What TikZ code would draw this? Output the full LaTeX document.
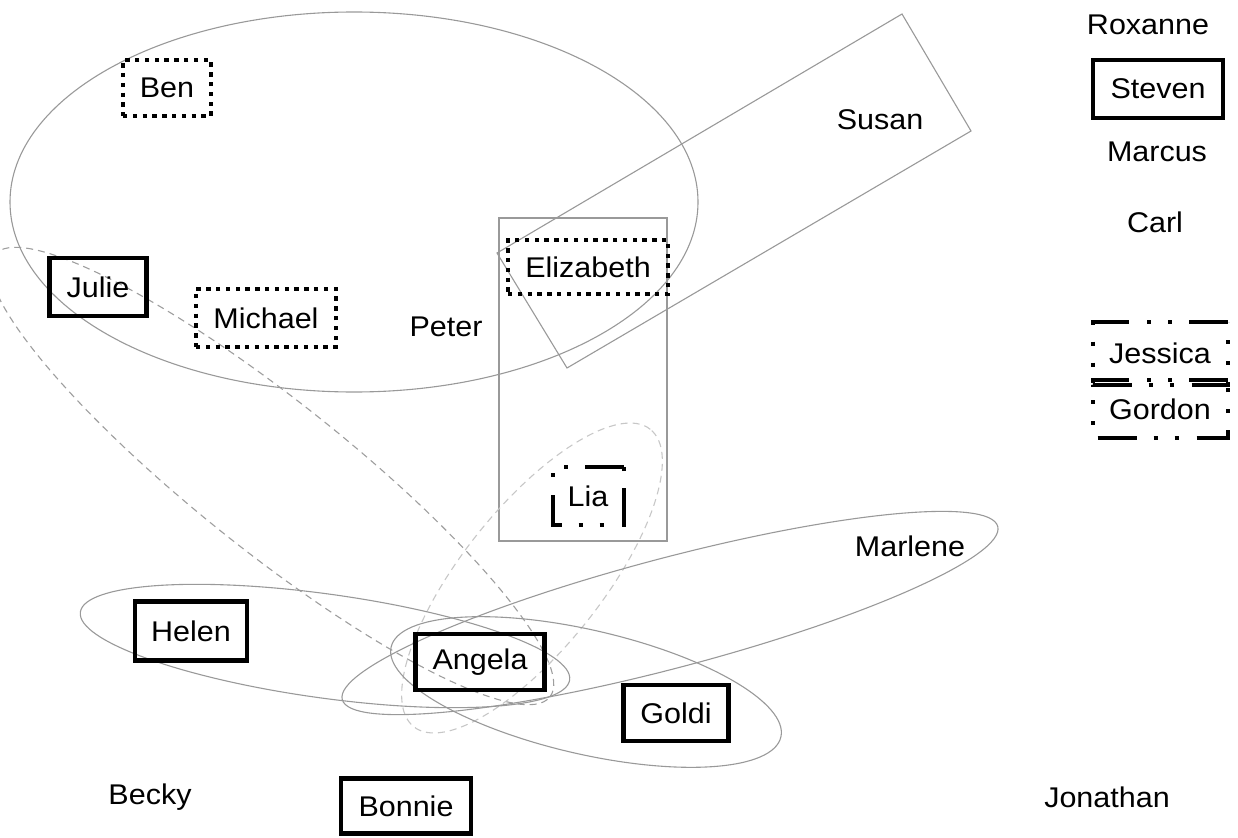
\documentclass[tikz,border=0pt]{standalone}
\usepackage{fontspec}
\setmainfont[FakeStretch=1.07]{Liberation Sans}
\begin{document}
\begin{tikzpicture}[x=1pt,y=-1pt,
  person/.style={font=\fontsize{28.5}{34}\selectfont, inner sep=0pt, outer sep=0pt},
  thickbox/.style={person, draw=black, line width=4.2pt},
  dotbox/.style={person, draw=black, line width=4.2pt, dash pattern=on 4.4pt off 5.4pt},
  ddframe/.style={draw=black, line width=4pt,
    dash pattern=on 39pt off 17pt on 4pt off 17pt on 4pt off 18pt},
  group/.style={draw=black!40, line width=1.1pt},
  groupdash/.style={draw=black!38, line width=1.1pt, dash pattern=on 7pt off 5pt},
  groupfaint/.style={draw=black!22, line width=1.1pt, dash pattern=on 7pt off 5pt}
]
\useasboundingbox (0,0) rectangle (1238,837);

% group outlines
\draw[group] (354,202) ellipse [x radius=344pt, y radius=190pt];
\draw[group] (499,218) rectangle (667,541);
\draw[group] (497,253) -- (902,14) -- (971,131) -- (567,368) -- cycle;
\draw[groupdash, rotate around={-38.5:(272,476)}] (272,476) ellipse [x radius=355pt, y radius=75pt];
\draw[groupfaint, rotate around={51.5:(532,578)}] (532,578) ellipse [x radius=190pt, y radius=70pt];
\draw[group, rotate around={-7.9:(325,646)}] (325,646) ellipse [x radius=247pt, y radius=52pt];
\draw[group, rotate around={14.8:(670,613)}] (670,613) ellipse [x radius=339pt, y radius=55pt];
\draw[group, rotate around={-13:(586,692)}] (586,692) ellipse [x radius=200pt, y radius=62pt];

% people
\node[person] (roxanne) at (1148,25) {Roxanne};
\node[thickbox, minimum width=130pt, minimum height=58pt] (steven) at (1158,89) {Steven};
\node[person] (marcus) at (1157,152) {Marcus};
\node[person] (carl) at (1155,222) {Carl};
\node[person, minimum width=135pt, minimum height=63pt] (jessica) at (1160,353) {Jessica};
\node[person, minimum width=135pt, minimum height=58pt] (gordon) at (1160,409) {Gordon};
\node[person] (susan) at (880,120) {Susan};
\node[dotbox, minimum width=88pt, minimum height=56pt] (ben) at (167,88) {Ben};
\node[thickbox, minimum width=97pt, minimum height=58pt] (julie) at (98,287) {Julie};
\node[dotbox, minimum width=140pt, minimum height=58pt] (michael) at (266,318) {Michael};
\node[person] (peter) at (446,327) {Peter};
\node[dotbox, minimum width=160pt, minimum height=54pt] (elizabeth) at (588,267) {Elizabeth};
\node[person, minimum width=71pt, minimum height=58pt] (lia) at (588,496) {Lia};
\node[person] (marlene) at (910,546) {Marlene};
\node[thickbox, minimum width=112pt, minimum height=59pt] (helen) at (191,631) {Helen};
\node[thickbox, minimum width=129pt, minimum height=56pt] (angela) at (480,662) {Angela};
\node[thickbox, minimum width=105pt, minimum height=56pt] (goldi) at (676,713) {Goldi};
\node[person] (becky) at (150,797) {Becky};
\node[thickbox, minimum width=130pt, minimum height=55pt] (bonnie) at (406,806) {Bonnie};
\node[person] (jonathan) at (1107,797) {Jonathan};

% dash-dot-dot frames, drawn counterclockwise from the top right corner
\foreach \n in {jessica,gordon,lia}
  \draw[ddframe] (\n.north east) -- (\n.north west) -- (\n.south west) -- (\n.south east) -- cycle;
\end{tikzpicture}
\end{document}
